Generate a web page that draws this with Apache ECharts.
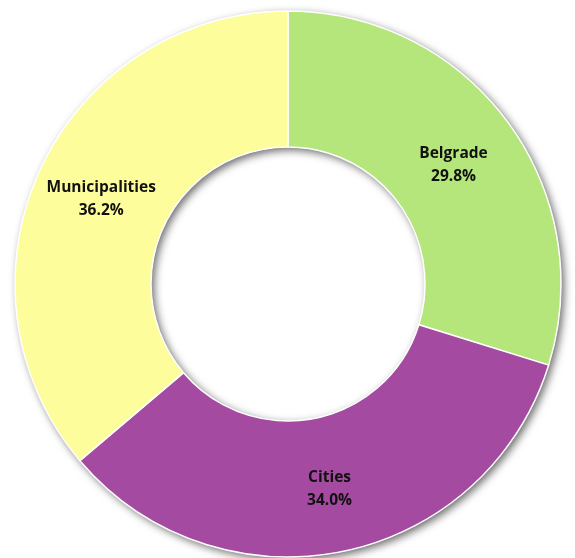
<!DOCTYPE html>
<html><head><meta charset="utf-8">
<script src="https://cdn.jsdelivr.net/npm/echarts@6/dist/echarts.min.js"></script>
<style>html,body{margin:0;padding:0;background:#fff}#c{width:575px;height:558px}</style>
</head><body><div id="c"></div>
<script>
const categories = ['Belgrade', 'Cities', 'Municipalities'];
const shares = [29.8, 34.0, 36.2];
const colors = ['#B4E67C', '#A44BA1', '#FDFD9C'];

const labelNudge = {Belgrade: [-2, 4], Cities: [0, 1], Municipalities: [2, 2]};

const chart = echarts.init(document.getElementById('c'), null, {renderer: 'canvas'});
chart.setOption({
  animation: false,
  backgroundColor: '#fff',
  series: [
    {
      type: 'pie', z: 1, silent: true,
      center: [288, 284], radius: [137, 273],
      label: {show: false}, labelLine: {show: false},
      data: [{value: 1, itemStyle: {color: '#ffffff', shadowColor: 'rgba(0,0,0,0.6)', shadowBlur: 8, shadowOffsetX: 3, shadowOffsetY: 3}}]
    },
    {
      type: 'pie', z: 2,
      center: [288, 284], radius: [137, 273],
      startAngle: 90, clockwise: true,
      itemStyle: {borderColor: '#ffffff', borderWidth: 1.5},
      label: {
        show: true, position: 'inside',
        formatter: p => p.name + '\n' + p.value.toFixed(1) + '%',
        fontFamily: 'Open Sans', fontWeight: 'bold', fontSize: 15.5, lineHeight: 23, color: '#111'
      },
      labelLine: {show: false},
      data: categories.map((n, i) => ({
        name: n, value: shares[i],
        itemStyle: {color: colors[i]},
        label: {offset: labelNudge[n]}
      }))
    }
  ]
});
</script></body></html>
